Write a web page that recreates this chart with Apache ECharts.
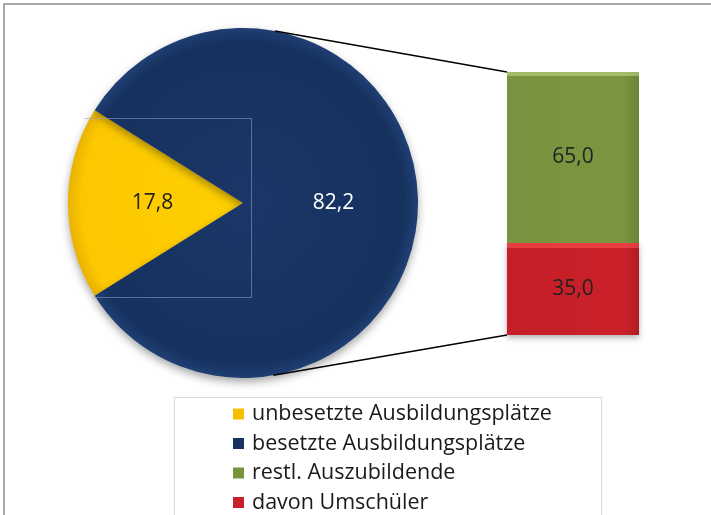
<!DOCTYPE html>
<html>
<head>
<meta charset="utf-8">
<script src="https://cdn.jsdelivr.net/npm/echarts@6/dist/echarts.min.js"></script>
<style>
  html, body { margin: 0; padding: 0; background: #fff; }
  #main { width: 711px; height: 515px; }
</style>
</head>
<body>
<div id="main"></div>
<script>
var pieNames = ['unbesetzte Ausbildungsplätze', 'besetzte Ausbildungsplätze'];
var pieValues = [17.8, 82.2];
var barCategory = [''];
var barNames = ['restl. Auszubildende', 'davon Umschüler'];
var restlValues = [65.0];
var umschuelerValues = [35.0];

var FONT = '"Open Sans", "Noto Sans", sans-serif';
var pieCenter = [243, 203];
var pieRadius = 175;

function fmt(v) {
    return v.toFixed(1).replace('.', ',');
}

var chart = echarts.init(document.getElementById('main'), null, {renderer: 'canvas'});

var pieTotal = pieValues[0] + pieValues[1];
// yellow slice centred on the left side
var startAngle = 180 + pieValues[0] / pieTotal * 180;

function radial(c0, c1, c2) {
    return {
        type: 'radial', x: pieCenter[0], y: pieCenter[1], r: pieRadius, global: true,
        colorStops: [{offset: 0, color: c0}, {offset: 0.92, color: c1}, {offset: 1, color: c2}]
    };
}

var pieColors = [radial('#ffd000', '#fcc800', '#e9b200'), radial('#1a3768', '#16315d', '#1f3f74')];
var legendColors = ['#f5c000', '#17325f', '#77933c', '#c8202a'];

var option = {
    animation: false,
    textStyle: {fontFamily: FONT},
    legend: {
        orient: 'vertical',
        left: 233,
        top: 403,
        height: 140,
        padding: 0,
        icon: 'rect',
        itemWidth: 11,
        itemHeight: 11,
        itemGap: 7.5,
        selectedMode: false,
        textStyle: {fontFamily: FONT, fontSize: 21.5, color: '#1a1a1a', lineHeight: 21, padding: [0, 0, 0, 3]},
        data: [
            {name: pieNames[0], itemStyle: {color: legendColors[0]}},
            {name: pieNames[1], itemStyle: {color: legendColors[1]}},
            {name: barNames[0], itemStyle: {color: legendColors[2]}},
            {name: barNames[1], itemStyle: {color: legendColors[3]}}
        ]
    },
    grid: {left: 507, top: 72, width: 132, height: 263},
    xAxis: {type: 'category', data: barCategory, show: false},
    yAxis: {type: 'value', min: 0, max: 100, show: false},
    series: [
        {
            name: 'pie',
            type: 'pie',
            center: pieCenter,
            radius: pieRadius,
            startAngle: startAngle,
            clockwise: true,
            z: 2,
            label: {
                position: 'inside',
                fontFamily: FONT,
                fontSize: 21,
                formatter: function (p) { return fmt(p.value); }
            },
            labelLine: {show: false},
            itemStyle: {shadowBlur: 8, shadowColor: 'rgba(0,0,0,0.35)', shadowOffsetY: 4},
            emphasis: {disabled: true},
            data: [
                {name: pieNames[0], value: pieValues[0], itemStyle: {color: pieColors[0]}, label: {color: '#222'}},
                {name: pieNames[1], value: pieValues[1], itemStyle: {color: pieColors[1]}, label: {color: '#fff'}}
            ]
        },
        {
            name: barNames[1],
            type: 'bar',
            stack: 'b',
            barWidth: '100%',
            data: umschuelerValues,
            itemStyle: {
                color: {type: 'linear', x: 0, y: 0, x2: 1, y2: 0, colorStops: [
                    {offset: 0, color: '#c41e28'}, {offset: 0.88, color: '#cb2129'}, {offset: 1, color: '#b01c24'}]},
                shadowBlur: 6, shadowColor: 'rgba(0,0,0,0.3)', shadowOffsetY: 3
            },
            label: {show: true, position: 'inside', fontFamily: FONT, fontSize: 21, color: '#222',
                formatter: function (p) { return fmt(p.value); }}
        },
        {
            name: barNames[0],
            type: 'bar',
            stack: 'b',
            barWidth: '100%',
            data: restlValues,
            itemStyle: {
                color: {type: 'linear', x: 0, y: 0, x2: 1, y2: 0, colorStops: [
                    {offset: 0, color: '#789440'}, {offset: 0.88, color: '#7a9640'}, {offset: 1, color: '#6a8436'}]}
            },
            label: {show: true, position: 'inside', fontFamily: FONT, fontSize: 21, color: '#222',
                formatter: function (p) { return fmt(p.value); }}
        }
    ]
};

chart.setOption(option);

// connector lines from the pie edge to the bar corners
var barTop = chart.convertToPixel({gridIndex: 0}, [0, 100]);
var barBottom = chart.convertToPixel({gridIndex: 0}, [0, 0]);
var barLeft = barTop[0] - 66;
var connectorAngles = [79.5, -80];
function piePoint(deg) {
    var r = deg * Math.PI / 180;
    return [pieCenter[0] + pieRadius * Math.cos(r), pieCenter[1] - pieRadius * Math.sin(r)];
}
var pTop = piePoint(connectorAngles[0]);
var pBot = piePoint(connectorAngles[1]);

chart.setOption({
    graphic: [
        {type: 'rect', silent: true, z: 0, shape: {x: 4, y: 4, width: 760, height: 560},
            style: {fill: 'none', stroke: '#a8a8a8', lineWidth: 2}},
        {type: 'rect', silent: true, z: 0, shape: {x: 174.5, y: 397.5, width: 427, height: 160},
            style: {fill: 'none', stroke: '#d9d9d9', lineWidth: 1}},
        {type: 'line', silent: true, z: 10, shape: {x1: pTop[0], y1: pTop[1], x2: barLeft, y2: barTop[1]},
            style: {stroke: '#000', lineWidth: 1.5}},
        {type: 'line', silent: true, z: 10, shape: {x1: pBot[0], y1: pBot[1], x2: barLeft, y2: barBottom[1]},
            style: {stroke: '#000', lineWidth: 1.5}},
        {type: 'polyline', silent: true, z: 10, shape: {points: [[84, 118.5], [251.5, 118.5], [251.5, 297.5], [92, 297.5]]},
            style: {fill: 'none', stroke: 'rgba(150,160,200,0.55)', lineWidth: 1}},
        {type: 'rect', silent: true, z: 10, shape: {x: barLeft, y: barTop[1], width: 132, height: 4},
            style: {fill: 'rgba(190,215,130,0.6)'}},
        {type: 'rect', silent: true, z: 10,
            shape: {x: barLeft, y: chart.convertToPixel({gridIndex: 0}, [0, 35])[1], width: 132, height: 5},
            style: {fill: 'rgba(255,80,80,0.6)'}}
    ]
});
</script>
</body>
</html>
